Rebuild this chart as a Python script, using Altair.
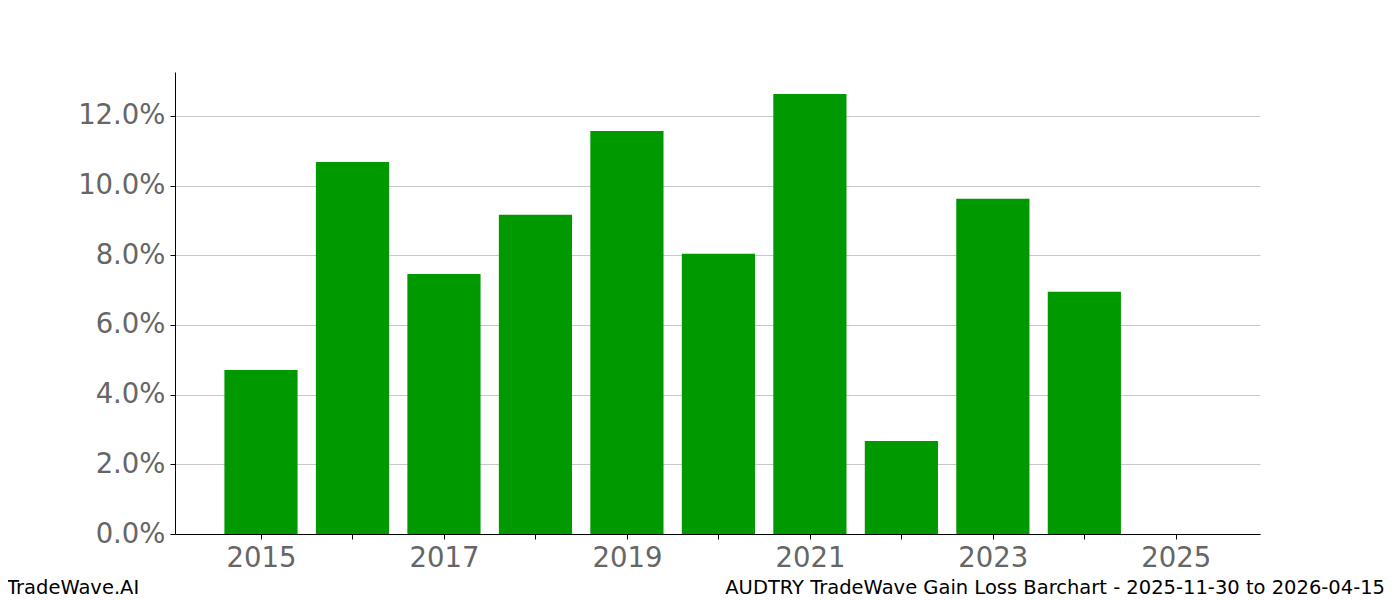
import altair as alt
import pandas as pd

years = [2015, 2016, 2017, 2018, 2019, 2020, 2021, 2022, 2023, 2024]
gains = [0.0471, 0.1068, 0.0746, 0.0916, 0.1157, 0.0804, 0.1263, 0.0267, 0.0962, 0.0695]
tick_years = list(range(2015, 2026))
pct_ticks = [0.0, 0.02, 0.04, 0.06, 0.08, 0.10, 0.12]

left_note = "TradeWave.AI"
right_note = "AUDTRY TradeWave Gain Loss Barchart - 2025-11-30 to 2026-04-15"

df = pd.DataFrame({"year": years, "gain": gains})
df["x0"] = df["year"] - 0.4
df["x1"] = df["year"] + 0.4

font = "DejaVu Sans"
W, H = 1085, 462

bars = alt.Chart(df).mark_bar(color="#009900").encode(
    x=alt.X("x0:Q",
            scale=alt.Scale(domain=[2014.06, 2025.92], nice=False, zero=False),
            axis=alt.Axis(values=tick_years, title=None, grid=False,
                          labelExpr="datum.value % 2 == 1 ? format(datum.value, 'd') : ''",
                          labelFontSize=27.5, labelColor="#666666", labelFont=font,
                          labelPadding=5, tickSize=5, tickColor="#000000",
                          domainColor="#000000", labelFlush=False)),
    x2="x1:Q",
    y=alt.Y("gain:Q",
            scale=alt.Scale(domain=[0, 0.1326], nice=False, padding=0),
            axis=alt.Axis(values=pct_ticks, format=".1%", title=None,
                          grid=True, gridColor="#c8c8c8", gridWidth=1,
                          labelFontSize=27.5, labelColor="#666666", labelFont=font,
                          labelPadding=5, tickSize=5, tickColor="#000000",
                          domainColor="#000000")),
    y2=alt.datum(0),
)

notes = pd.DataFrame({"t": [left_note]})
left_text = alt.Chart(notes).mark_text(
    font=font, fontSize=19.5, color="#000000", align="left", baseline="middle"
).encode(text="t:N", x=alt.value(-168), y=alt.value(H + 54))

notes2 = pd.DataFrame({"t": [right_note]})
right_text = alt.Chart(notes2).mark_text(
    font=font, fontSize=19.5, color="#000000", align="right", baseline="middle"
).encode(text="t:N", x=alt.value(1385 - 175), y=alt.value(H + 54))

chart = alt.layer(bars, left_text, right_text).properties(
    width=W, height=H,
    autosize=alt.AutoSizeParams(type="none"),
    padding={"left": 167, "top": 64, "right": 132, "bottom": 66},
).configure_view(stroke=None)

chart.save("out.html", embed_options={"renderer": "svg", "actions": False})
